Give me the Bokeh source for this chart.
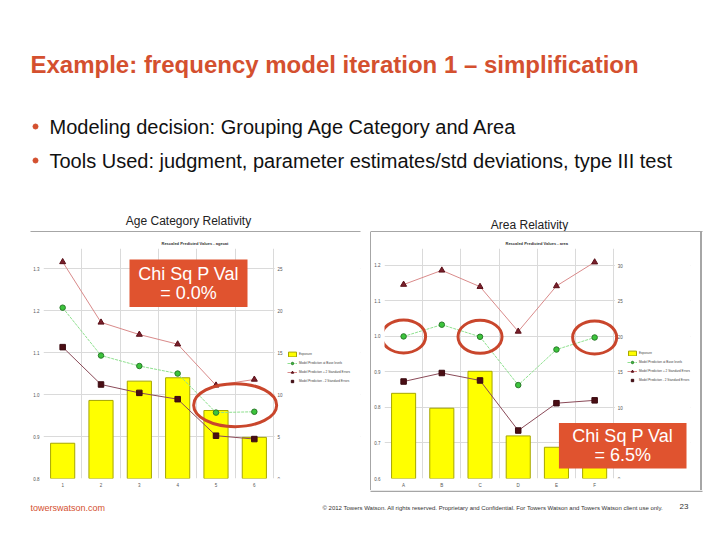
from bokeh.plotting import figure
from bokeh.layouts import column, row
from bokeh.models import (Range1d, LinearAxis, FixedTicker, Legend, LegendItem,
                          Label, BoxAnnotation, Spacer, Div, NumeralTickFormatter)
from bokeh.embed import file_html
from bokeh.resources import INLINE
from bokeh.core.properties import value

# ---------------- data ----------------
TITLE = "Example: frequency model iteration 1 \u2013 simplification"
BULLETS = ["Modeling decision: Grouping Age Category and Area",
           "Tools Used: judgment, parameter estimates/std deviations, type III test"]
SUBTITLES = ["Age Category Relativity", "Area Relativity"]
CHART_TITLES = ["Rescaled Predicted Values - agecat", "Rescaled Predicted Values - area"]
LEGEND_LABELS = ["Exposure", "Model Prediction at Base levels",
                 "Model Prediction + 2 Standard Errors",
                 "Model Prediction - 2 Standard Errors"]
CHI_TEXT = [["Chi Sq P Val", "= 0.0%"], ["Chi Sq P Val", "= 6.5%"]]

age_cats = ["1", "2", "3", "4", "5", "6"]
age_exposure = [4.2, 9.3, 11.6, 12.0, 8.1, 4.9]
age_upper = [1.316, 1.172, 1.143, 1.120, 1.022, 1.036]
age_pred = [1.207, 1.093, 1.068, 1.050, 0.957, 0.959]
age_lower = [1.113, 1.024, 1.004, 0.989, 0.902, 0.894]
age_left_ticks = [0.8, 0.9, 1.0, 1.1, 1.2, 1.3]
age_right_ticks = [0, 5, 10, 15, 20, 25]

area_cats = ["A", "B", "C", "D", "E", "F"]
area_exposure = [12.0, 9.9, 15.1, 6.0, 4.4, 4.0]
area_upper = [1.146, 1.186, 1.140, 1.014, 1.142, 1.209]
area_pred = [1.000, 1.033, 0.999, 0.863, 0.963, 0.997]
area_lower = [0.873, 0.897, 0.876, 0.735, 0.812, 0.820]
area_left_ticks = [0.6, 0.7, 0.8, 0.9, 1.0, 1.1, 1.2]
area_right_ticks = [0, 5, 10, 15, 20, 25, 30]
area_circled = [0, 2, 5]

ORANGE = "#D4502F"
BOXC = "#E0532F"
ELLC = "#C9462C"
FONT = "Liberation Sans"
GRID = "#DADADA"
RPANEL = 10


def make_chart(page_left, page_top, w, h, plot_box, cats, expo, upper, pred, lower,
               yticks, ylo, yhi, rticks, rhi, title, title_off, legend_left):
    # plot_box: pixel extent of the category area (left, right, top, bottom)
    fl, fr, ft, fb = plot_box
    n = len(cats)
    xs = list(range(1, n + 1))
    frame_right = page_left + w - RPANEL
    x_end = 0.5 + (frame_right - fl) / (fr - fl) * n
    p = figure(width=w, height=h, output_backend="svg", toolbar_location=None,
               x_range=Range1d(0.5, x_end), y_range=Range1d(ylo, yhi),
               min_border_left=fl - page_left, min_border_right=RPANEL,
               min_border_top=ft - page_top, min_border_bottom=page_top + h - fb)
    p.outline_line_color = None
    p.background_fill_color = "white"
    p.title.text = title
    p.title.text_font = FONT
    p.title.text_font_size = "4px"
    p.title.text_font_style = "bold"
    p.title.text_color = "#333333"
    p.title.align = "left"
    p.title.offset = title_off
    p.title.standoff = 2
    p.title.vertical_align = "top"

    p.extra_y_ranges = {"right": Range1d(0, rhi)}

    p.xaxis.ticker = FixedTicker(ticks=xs)
    p.xaxis.major_label_overrides = {i: c for i, c in zip(xs, cats)}
    p.xgrid.ticker = FixedTicker(ticks=[i + 0.5 for i in range(n + 1)])
    p.yaxis.ticker = FixedTicker(ticks=yticks)
    p.yaxis.formatter = NumeralTickFormatter(format="0.0")
    p.ygrid.ticker = FixedTicker(ticks=yticks)
    p.grid.grid_line_color = GRID
    p.grid.grid_line_width = 1

    rax = LinearAxis(y_range_name="right", ticker=FixedTicker(ticks=rticks),
                     fixed_location=n + 0.5)
    p.add_layout(rax, "right")
    for ax in p.axis:
        ax.axis_line_color = None
        ax.major_tick_line_color = None
        ax.minor_tick_line_color = None
        ax.major_tick_out = 0
        ax.major_tick_in = 0
        ax.minor_tick_out = 0
        ax.major_label_text_font_size = "4.5px"
        ax.major_label_text_color = "#555555"
        ax.major_label_text_font = FONT
        ax.major_label_standoff = 4

    # white mask so that the horizontal grid stops at the last category
    p.quad(left=[n + 0.53], right=[x_end], bottom=[ylo], top=[yhi],
           fill_color="white", line_color=None)

    bars = p.vbar(x=xs, top=expo, bottom=0, width=0.63, y_range_name="right",
                  fill_color="#FFFF00", line_color="#A6A600", line_width=1)
    l_up = p.line(xs, upper, line_color="#D98A8A", line_width=1)
    m_up = p.scatter(xs, upper, marker="triangle", size=6, fill_color="#7A1F2B",
                     line_color="#5A1018")
    l_pr = p.line(xs, pred, line_color="#8EE08E", line_width=1, line_dash="3 1")
    m_pr = p.scatter(xs, pred, marker="circle", size=5.5, fill_color="#3CC43C",
                     line_color="#2A7A2A")
    l_lo = p.line(xs, lower, line_color="#8A4A58", line_width=1)
    m_lo = p.scatter(xs, lower, marker="square", size=5.5, fill_color="#4A0E14",
                     line_color="#3A0A10")

    legend = Legend(items=[
        LegendItem(label=LEGEND_LABELS[0], renderers=[bars]),
        LegendItem(label=LEGEND_LABELS[1], renderers=[l_pr, m_pr]),
        LegendItem(label=LEGEND_LABELS[2], renderers=[l_up, m_up]),
        LegendItem(label=LEGEND_LABELS[3], renderers=[m_lo]),
    ], location=(legend_left - fl, fb - 385), label_text_font_size="3.1px",
        label_text_font=FONT, label_text_color="#444444", glyph_width=10,
        glyph_height=6, label_height=6, spacing=3, padding=0, margin=0,
        label_standoff=2, border_line_color=None, background_fill_alpha=0)
    p.add_layout(legend, "center")

    # pixel -> data helpers (for annotations)
    def px_x(px):
        return 0.5 + (px - fl) / (fr - fl) * n

    def px_y(py):
        return ylo + (fb - py) / (fb - ft) * (yhi - ylo)

    return p, px_x, px_y


def add_chi(p, px_x, px_y, box, lines):
    l, r, t, b = box
    p.add_layout(BoxAnnotation(left=px_x(l), right=px_x(r), top=px_y(t), bottom=px_y(b),
                               fill_color=BOXC, fill_alpha=1, line_color=None, level="overlay"))
    cx = px_x((l + r) / 2)
    cy = (t + b) / 2
    for k, txt in enumerate(lines):
        p.add_layout(Label(x=cx, y=px_y(cy - 9.5 + 19 * k), text=txt, text_align="center",
                           text_baseline="middle", text_color="white", text_font=FONT,
                           text_font_size="18px", level="overlay"))


# ---------------- chart 1 ----------------
c1, c1x, c1y = make_chart(30, 232, 340, 258, (43, 273, 247, 479), age_cats, age_exposure,
                          age_upper, age_pred, age_lower, age_left_ticks, 0.8, 1.348,
                          age_right_ticks, 27.4, CHART_TITLES[0], 118, 287)
c1.ellipse(x=[(len(age_cats) - 0.5)], y=[c1y(405)], width=83, height=43,
           width_units="screen", height_units="screen", fill_color=None,
           line_color=ELLC, line_width=3)
add_chi(c1, c1x, c1y, (129, 247, 258, 306), CHI_TEXT[0])

# ---------------- chart 2 ----------------
c2, c2x, c2y = make_chart(371, 232, 329, 258, (383, 613, 248, 480), area_cats, area_exposure,
                          area_upper, area_pred, area_lower, area_left_ticks, 0.6, 1.2475,
                          area_right_ticks, 32.4, CHART_TITLES[1], 121, 626)
c2.ellipse(x=[i + 1 for i in area_circled], y=[area_pred[i] for i in area_circled],
           width=44, height=33, width_units="screen", height_units="screen",
           fill_color=None, line_color=ELLC, line_width=3)
add_chi(c2, c2x, c2y, (558, 686, 424, 470), CHI_TEXT[1])

# ---------------- header ----------------
hdr = figure(width=704, height=232, output_backend="svg", toolbar_location=None,
             x_range=Range1d(0, 704), y_range=Range1d(232, 0), min_border=0,
             x_axis_location=None, y_axis_location=None)
hdr.grid.visible = False
hdr.outline_line_color = None
hdr.text(x=[30], y=[64], text=[TITLE], text_font=value(FONT), text_font_style="bold",
         text_font_size="24px", text_color=ORANGE, text_baseline="middle")
hdr.scatter(x=[35, 35], y=[126, 160], size=5, fill_color=ORANGE, line_color=ORANGE)
hdr.text(x=[49, 49], y=[126, 160], text=BULLETS, text_font=value(FONT),
         text_font_size="20px", text_color="#111111", text_baseline="middle")
hdr.text(x=[188, 529], y=[220, 224], text=SUBTITLES, text_font=value(FONT),
         text_font_size="12px", text_color="#222222", text_baseline="middle",
         text_align="center")
hdr.segment(x0=[30, 370], y0=[231.3, 231.3], x1=[360, 702], y1=[231.3, 231.3],
            line_color="#A6A6A6", line_width=1.5)

# ---------------- footer ----------------
ftr = figure(width=704, height=42, output_backend="svg", toolbar_location=None,
             x_range=Range1d(0, 704), y_range=Range1d(532, 490), min_border=0,
             x_axis_location=None, y_axis_location=None)
ftr.grid.visible = False
ftr.outline_line_color = None
ftr.segment(x0=[370], y0=[490.7], x1=[702], y1=[490.7], line_color="#A6A6A6", line_width=1.5)
ftr.text(x=[30], y=[507], text=["towerswatson.com"], text_font=value(FONT),
         text_font_size="9px", text_color=ORANGE, text_baseline="middle")
ftr.text(x=[322], y=[507], text=["\u00a9 2012 Towers Watson. All rights reserved. Proprietary and Confidential. For Towers Watson and Towers Watson client use only."],
         text_font=value(FONT), text_font_size="6px", text_color="#333333",
         text_baseline="middle")
ftr.text(x=[679], y=[506], text=["23"], text_font=value(FONT), text_font_size="8px",
         text_color="#333333", text_baseline="middle")

vline1 = Div(width=1, height=258, margin=0, styles={"background-color": "#A6A6A6"})
vline2 = Div(width=2, height=258, margin=0, styles={"background-color": "#A6A6A6"})
mid = row(Spacer(width=30, height=258), c1, vline1, c2,
          vline2, Spacer(width=2, height=258), spacing=0)
layout = column(hdr, mid, ftr, spacing=0)

open("out.html", "w").write(file_html(layout, INLINE))
